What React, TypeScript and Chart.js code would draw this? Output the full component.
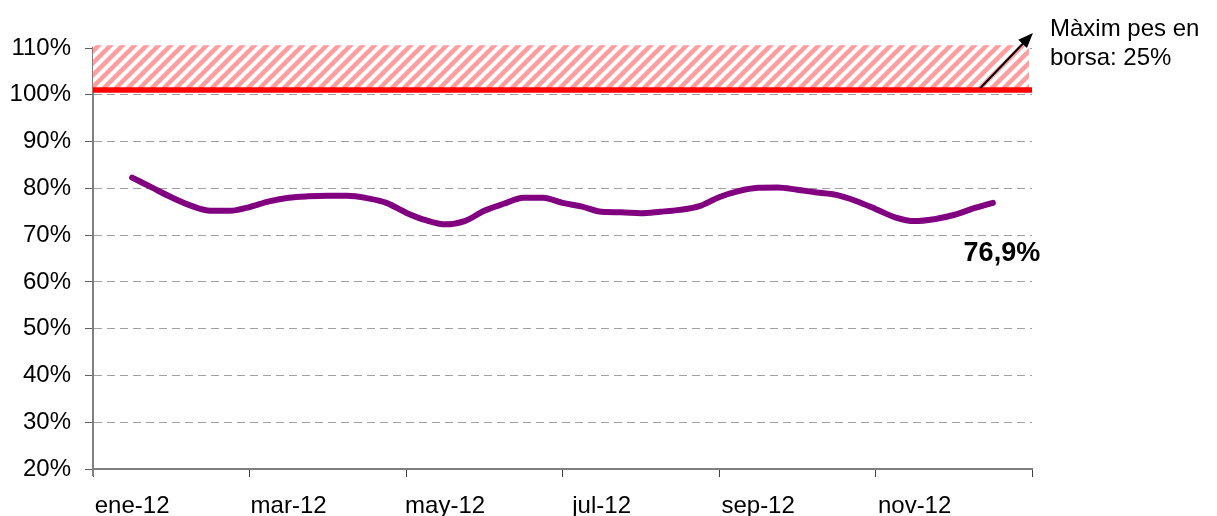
import { useEffect, useRef } from "react";
import { Chart, registerables } from "chart.js";

Chart.register(...registerables);

// Month categories shown on the x axis (every other one labelled)
const MONTHS = ["ene-12", "feb-12", "mar-12", "abr-12", "may-12", "jun-12", "jul-12", "ago-12", "sep-12", "oct-12", "nov-12", "dic-12"];
const WEEKLY = [
  82.3, 80.2, 78.1, 76.3, 75.2, 75.2, 76.0, 77.2, 78.0, 78.3, 78.4, 78.4,
  77.9, 76.9, 74.8, 73.2, 72.3, 73.0, 75.2, 76.7, 78.0, 78.0, 76.9, 76.1,
  75.0, 74.9, 74.7, 75.0, 75.4, 76.2, 78.1, 79.4, 80.1, 80.2, 79.7, 79.1,
  78.6, 77.3, 75.6, 73.8, 73.0, 73.4, 74.3, 75.7, 76.9,
];
const Y_MIN = 20;
const Y_MAX = 110;
const Y_STEP = 10;
const LIMIT = 101; // red limit line
const HATCH_TOP = 110.6;
const LAST_LABEL = "76,9%";
const NOTE = ["Màxim pes en", "borsa: 25%"];
const ARROW_FROM = { x: 43.35, y: 101.4 };
const ARROW_TO = { x: 46.05, y: 113.2 };

const FONT = "'Liberation Sans', Arial, sans-serif";

export default function App() {
  const ref = useRef<HTMLCanvasElement | null>(null);

  useEffect(() => {
    document.body.style.margin = "0";
    const canvas = ref.current;
    if (!canvas) return;

    // hatch pattern
    const pc = document.createElement("canvas");
    pc.width = 12;
    pc.height = 12;
    const g = pc.getContext("2d")!;
    g.fillStyle = "#ffffff";
    g.fillRect(0, 0, 12, 12);
    g.strokeStyle = "rgba(255,40,40,0.45)";
    g.lineWidth = 4.5;
    g.beginPath();
    g.moveTo(-3, 15);
    g.lineTo(15, -3);
    g.moveTo(-9, 9);
    g.lineTo(9, -9);
    g.moveTo(3, 21);
    g.lineTo(21, 3);
    g.stroke();

    const hatchPlugin = {
      id: "hatch",
      beforeDatasetsDraw(chart: any) {
        const { ctx, chartArea } = chart;
        const y = chart.scales.y;
        const top = y.getPixelForValue(HATCH_TOP);
        const bot = y.getPixelForValue(LIMIT);
        const pat = ctx.createPattern(pc, "repeat");
        ctx.save();
        ctx.fillStyle = pat;
        ctx.fillRect(chartArea.left, top, chartArea.right - 3 - chartArea.left, bot - top);
        ctx.restore();
      },
    };

    const annotPlugin = {
      id: "annot",
      afterDraw(chart: any) {
        const { ctx } = chart;
        const xs = chart.scales.x;
        const ys = chart.scales.y;
        // y axis extends a little below the x axis
        ctx.save();
        ctx.strokeStyle = "#808080";
        ctx.lineWidth = 2;
        ctx.beginPath();
        ctx.moveTo(chart.chartArea.left, chart.chartArea.bottom);
        ctx.lineTo(chart.chartArea.left, chart.chartArea.bottom + 7);
        ctx.stroke();
        ctx.restore();
        // arrow
        const x1 = xs.getPixelForValue(ARROW_FROM.x);
        const y1 = ys.getPixelForValue(ARROW_FROM.y);
        const x2 = xs.getPixelForValue(ARROW_TO.x);
        const y2 = ys.getPixelForValue(ARROW_TO.y);
        const ang = Math.atan2(y2 - y1, x2 - x1);
        const head = 15;
        ctx.save();
        ctx.strokeStyle = "#000";
        ctx.fillStyle = "#000";
        ctx.lineWidth = 2;
        ctx.beginPath();
        ctx.moveTo(x1, y1);
        ctx.lineTo(x2 - Math.cos(ang) * head * 0.8, y2 - Math.sin(ang) * head * 0.8);
        ctx.stroke();
        ctx.beginPath();
        ctx.moveTo(x2, y2);
        ctx.lineTo(x2 - head * Math.cos(ang) + 6 * Math.sin(ang), y2 - head * Math.sin(ang) - 6 * Math.cos(ang));
        ctx.lineTo(x2 - head * Math.cos(ang) - 6 * Math.sin(ang), y2 - head * Math.sin(ang) + 6 * Math.cos(ang));
        ctx.closePath();
        ctx.fill();
        // note text
        ctx.font = `24px ${FONT}`;
        ctx.textAlign = "left";
        ctx.textBaseline = "alphabetic";
        NOTE.forEach((t, i) => ctx.fillText(t, x2 + 17, y2 + 3 + i * 29));
        // last value label
        const meta = chart.getDatasetMeta(1);
        const last = meta.data[meta.data.length - 1];
        ctx.font = `bold 27px ${FONT}`;
        ctx.textAlign = "center";
        ctx.fillText(LAST_LABEL, last.x + 9, last.y + 58);
        ctx.restore();
      },
    };

    const chart = new Chart(canvas, {
      type: "line",
      data: {
        datasets: [
          {
            label: "Límit",
            data: [
              { x: -2, y: LIMIT },
              { x: WEEKLY.length + 1, y: LIMIT },
            ],
            borderColor: "#ff0000",
            borderWidth: 5.5,
            pointRadius: 0,
            xAxisID: "x",
            yAxisID: "y",
          },
          {
            label: "Pes",
            data: WEEKLY.map((v, i) => ({ x: i, y: v })),
            borderColor: "#800080",
            borderWidth: 6,
            borderCapStyle: "round",
            pointRadius: 0,
            tension: 0.4,
            cubicInterpolationMode: "monotone",
            xAxisID: "x",
            yAxisID: "y",
          },
        ],
      },
      options: {
        animation: false,
        responsive: true,
        maintainAspectRatio: false,
        layout: { padding: { top: 48, right: 185, bottom: 0, left: 0 } },
        plugins: { legend: { display: false }, tooltip: { enabled: false } },
        scales: {
          x: {
            type: "linear",
            display: false,
            min: -2,
            max: WEEKLY.length + 1,
          },
          xm: {
            type: "category",
            labels: MONTHS,
            position: "bottom",
            offset: true,
            afterFit: (s: any) => {
              s.height = 47;
            },
            grid: {
              offset: true,
              drawOnChartArea: false,
              tickLength: 8,
              tickWidth: 1,
              tickColor: (c: any) => (c.index === undefined || c.index % 2 === 0 ? "#404040" : "rgba(0,0,0,0)"),
            },
            border: { color: "#808080", width: 2 },
            ticks: {
              autoSkip: false,
              maxRotation: 0,
              padding: 15,
              color: "#000",
              font: { family: FONT, size: 24 },
              callback: (_v: any, i: number) => (i % 2 === 0 ? MONTHS[i] : ""),
            },
          },
          y: {
            min: Y_MIN,
            max: Y_MAX,
            afterFit: (s: any) => {
              s.width = 93;
            },
            ticks: {
              stepSize: Y_STEP,
              padding: 14,
              color: "#000",
              font: { family: FONT, size: 24 },
              callback: (v: any) => `${v}%`,
            },
            grid: {
              color: "#a0a0a0",
              lineWidth: 1,
              tickLength: 8,
              tickColor: "#606060",
              tickWidth: 1,
              tickBorderDash: [],
            },
            border: { color: "#808080", width: 2, dash: [8, 5] },
          },
        },
      },
      plugins: [hatchPlugin, annotPlugin],
    });

    return () => chart.destroy();
  }, []);

  return (
    <div style={{ position: "absolute", left: 0, top: 0, width: 1217, height: 516 }}>
      <canvas ref={ref} />
    </div>
  );
}
